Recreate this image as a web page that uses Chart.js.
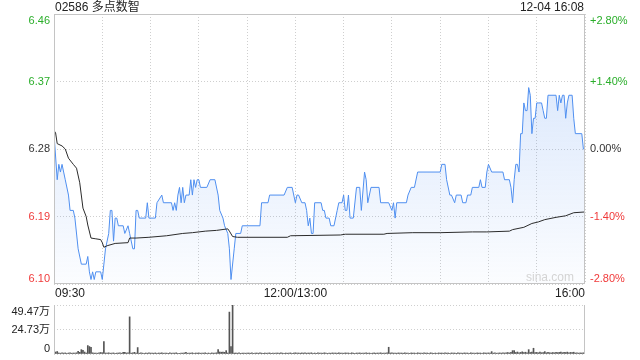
<!DOCTYPE html>
<html>
<head>
<meta charset="utf-8">
<script src="https://cdn.jsdelivr.net/npm/chart.js@4.4.0/dist/chart.umd.min.js"></script>
<style>
  html, body { margin: 0; padding: 0; background: #fff; }
  #wrap { position: relative; width: 640px; height: 360px; }
  #wrap canvas { position: absolute; left: 0; top: 0; }
</style>
</head>
<body>
<div id="wrap">
  <canvas id="priceChart" width="640" height="360"></canvas>
  <canvas id="volChart" width="640" height="360"></canvas>
</div>
<script>
// Header texts
const stockTitle = '02586 多点数智';
const stampText = '12-04 16:08';

// Previous close, axis is +/-2.80% around it
const prevClose = 6.28;
const pctTicks = [2.8, 1.4, 0, -1.4, -2.8];
const priceTickLabels = ['6.46', '6.37', '6.28', '6.19', '6.10'];
const pctTickLabels = ['+2.80%', '+1.40%', '0.00%', '-1.40%', '-2.80%'];

// Time axis: minutes since open, lunch break removed (0 = 09:30, 150 = 12:00/13:00, 330 = 16:00)
const timeTickMinutes = [0, 150, 330];
const timeTickLabels = ['09:30', '12:00/13:00', '16:00'];

// Volume axis (unit: 万 shares)
const volTicks = [49.47, 24.73, 0];
const volTickLabels = ['49.47万', '24.73万', '0'];

// Price trace: [minute, price]
const priceTrace = [
  [0, 6.30], [2, 6.24], [3, 6.26], [4, 6.25], [5, 6.26], [6, 6.25], [7, 6.24], [9, 6.22], [10, 6.20], [12, 6.20],
  [13, 6.19], [15, 6.15], [17, 6.13], [20, 6.13], [21, 6.14], [22, 6.12], [23, 6.11], [24, 6.12], [25, 6.11], [26, 6.12],
  [29, 6.12], [30, 6.11], [32, 6.15], [34, 6.17], [35, 6.20], [36, 6.20], [37, 6.16], [38, 6.19], [39, 6.19], [40, 6.18],
  [43, 6.18], [44, 6.17], [46, 6.18], [47, 6.17], [49, 6.15], [50, 6.15], [51, 6.20], [52, 6.20], [53, 6.19], [57, 6.19],
  [58, 6.21], [59, 6.19], [63, 6.19], [64, 6.21], [67, 6.22], [68, 6.21], [73, 6.21], [74, 6.20], [75, 6.21], [76, 6.20],
  [77, 6.22], [78, 6.23], [79, 6.21], [80, 6.23], [81, 6.21], [82, 6.22], [84, 6.22], [85, 6.24], [86, 6.22], [87, 6.24],
  [88, 6.23], [89, 6.24], [90, 6.24], [91, 6.23], [95, 6.23], [97, 6.24], [100, 6.24], [102, 6.22], [103, 6.20], [105, 6.19],
  [106, 6.18], [108, 6.17], [109, 6.15], [110, 6.11], [112, 6.15], [113, 6.17], [116, 6.17], [117, 6.18], [128, 6.18], [129, 6.21],
  [133, 6.21], [134, 6.22], [143, 6.22], [145, 6.23], [148, 6.23], [150, 6.21], [151, 6.22], [152, 6.22], [154, 6.21], [156, 6.21],
  [157, 6.20], [158, 6.18], [159, 6.19], [160, 6.17], [161, 6.17], [162, 6.21], [166, 6.21], [167, 6.20], [168, 6.20], [169, 6.19],
  [171, 6.19], [172, 6.18], [174, 6.18], [176, 6.20], [177, 6.21], [179, 6.21], [180, 6.22], [181, 6.20], [182, 6.20], [183, 6.22],
  [184, 6.19], [186, 6.19], [188, 6.23], [190, 6.23], [191, 6.20], [193, 6.25], [194, 6.24], [195, 6.21], [197, 6.23], [202, 6.23],
  [203, 6.21], [208, 6.21], [210, 6.20], [211, 6.21], [212, 6.19], [213, 6.21], [219, 6.21], [220, 6.22], [222, 6.23], [224, 6.23],
  [226, 6.25], [240, 6.25], [241, 6.26], [243, 6.26], [244, 6.24], [246, 6.22], [247, 6.22], [249, 6.21], [250, 6.22], [253, 6.22],
  [254, 6.21], [256, 6.21], [257, 6.22], [259, 6.22], [260, 6.23], [264, 6.23], [265, 6.24], [266, 6.23], [268, 6.23], [269, 6.25],
  [270, 6.26], [272, 6.25], [279, 6.25], [280, 6.24], [283, 6.24], [284, 6.23], [285, 6.21], [286, 6.24], [287, 6.26], [288, 6.26],
  [289, 6.25], [290, 6.30], [291, 6.30], [292, 6.34], [293, 6.33], [294, 6.33], [295, 6.36], [296, 6.35], [297, 6.30], [298, 6.32],
  [299, 6.32], [300, 6.34], [301, 6.34], [303, 6.34], [304, 6.33], [305, 6.32], [306, 6.32], [307, 6.35], [312, 6.35], [313, 6.33],
  [314, 6.35], [315, 6.34], [316, 6.35], [317, 6.35], [318, 6.32], [319, 6.34], [320, 6.35], [322, 6.35], [323, 6.32], [324, 6.30],
  [328, 6.30], [329, 6.28], [330, 6.28]
];

// Average price trace: [minute, price]
const avgTrace = [
  [0, 6.304], [1, 6.301], [2, 6.287], [5, 6.284], [7, 6.280], [9, 6.268], [12, 6.260], [14, 6.255], [16, 6.236], [18, 6.203],
  [20, 6.192], [21, 6.181], [23, 6.164], [26, 6.163], [29, 6.162], [30, 6.158], [31, 6.152], [33, 6.154], [38, 6.157], [46, 6.158],
  [47, 6.164], [51, 6.164], [59, 6.165], [70, 6.167], [80, 6.170], [86, 6.171], [94, 6.173], [101, 6.174], [108, 6.176], [109, 6.173],
  [111, 6.166], [114, 6.165], [145, 6.165], [147, 6.167], [178, 6.168], [181, 6.169], [205, 6.169], [207, 6.170], [223, 6.171], [240, 6.171],
  [260, 6.172], [269, 6.172], [283, 6.173], [285, 6.175], [292, 6.178], [297, 6.183], [301, 6.185], [305, 6.188], [312, 6.191], [318, 6.193],
  [323, 6.197], [330, 6.198]
];

// Volume per minute (万), index = minute since open
const volumes = [
  3.0, 2.0, 2.5, 1.0, 0.8, 1.2, 0.9, 1.1, 0.7, 1.0, 1.3, 0.8, 1.0, 0.9, 1.2, 2.7, 1.7, 4.4, 3.8, 2.0, 1.0, 8.5, 7.5, 6.8, 1.2, 0.9, 1.0, 0.8, 1.1, 1.5,
  1.3, 12.6, 1.0, 0.9, 1.2, 0.8, 1.0, 1.1, 0.7, 0.9, 1.0, 1.2, 0.8, 1.7, 1.7, 1.0, 1.2, 37.5, 0.9, 1.1, 1.7, 1.0, 6.5, 0.8, 1.2, 0.9, 0.7, 1.0, 0.8, 1.1,
  0.9, 1.0, 0.8, 1.1, 0.7, 1.0, 0.9, 1.2, 0.8, 1.0, 0.9, 0.7, 1.1, 0.8, 1.0, 0.9, 1.2, 0.8, 0.7, 1.0, 0.9, 1.1, 1.7, 0.8, 1.0, 0.9, 1.2, 0.8, 1.0, 0.9,
  1.1, 0.8, 1.0, 0.9, 1.2, 0.7, 1.0, 0.8, 1.1, 0.9, 1.0, 1.2, 4.4, 2.0, 1.8, 2.0, 1.7, 3.4, 1.0, 42.3, 7.5, 49.47, 0.9, 1.0, 0.8, 1.1, 0.7, 0.9, 1.0, 0.8,
  0.9, 1.0, 0.8, 1.1, 0.7, 0.9, 1.0, 0.8, 1.2, 0.9, 0.7, 1.0, 0.8, 0.9, 1.1, 0.7, 1.0, 0.8, 0.9, 1.0, 0.8, 1.2, 0.9, 0.7, 1.0, 0.8, 0.9, 1.1, 0.8, 1.0,
  1.2, 0.9, 1.0, 0.8, 1.1, 0.9, 1.3, 0.8, 1.0, 0.9, 1.2, 0.8, 1.0, 0.7, 1.1, 0.9, 1.0, 0.8, 1.2, 0.9, 0.7, 1.0, 0.8, 1.1, 0.9, 1.0, 0.8, 1.2, 0.9, 1.0,
  0.8, 1.1, 0.9, 1.0, 0.7, 1.2, 0.9, 0.8, 1.0, 0.9, 1.1, 0.8, 1.0, 0.9, 1.2, 0.8, 1.0, 0.7, 0.9, 1.1, 0.8, 1.0, 0.9, 1.2, 0.8, 1.0, 0.9, 1.1, 6.8, 1.0,
  1.2, 0.9, 1.0, 0.8, 1.1, 0.9, 1.0, 0.8, 1.2, 0.9, 1.0, 0.7, 1.1, 0.9, 1.0, 0.8, 1.2, 0.9, 1.0, 0.8, 1.1, 0.9, 1.0, 0.8, 1.2, 0.9, 0.7, 1.0, 0.8, 1.1,
  0.9, 1.0, 0.8, 1.2, 0.9, 1.0, 0.8, 1.1, 0.9, 1.0, 0.7, 1.2, 0.9, 1.0, 0.8, 1.1, 0.9, 1.0, 0.8, 1.2, 0.9, 1.0, 0.8, 1.1, 0.9, 1.0, 0.8, 1.2, 1.0, 0.9,
  1.1, 1.0, 2.4, 0.9, 1.2, 0.8, 1.0, 1.1, 0.9, 1.3, 1.0, 1.2, 1.5, 1.1, 1.8, 3.4, 3.4, 1.5, 2.0, 1.2, 1.6, 2.2, 1.4, 1.8, 1.3, 4.4, 1.5, 2.0, 5.8, 1.4,
  1.6, 1.2, 1.9, 1.3, 1.5, 2.4, 1.2, 1.6, 1.3, 1.1, 1.5, 1.2, 1.8, 1.4, 1.6, 2.0, 1.3, 1.7, 1.5, 1.9, 1.2, 1.6, 1.4, 1.8, 1.0, 1.2, 0.9, 1.1, 1.0, 1.2,
  1.5
];

const FONT_FAMILY = '"Liberation Sans", Arial, "Noto Sans CJK SC", sans-serif';
const UP_COLOR = '#2aae2a';
const DOWN_COLOR = '#f03a3a';
const FLAT_COLOR = '#333333';
const GRID_COLOR = '#cfcfcf';
const FRAME_COLOR = '#c4c4c4';

function labelColor(pct) {
    if (pct > 0) return UP_COLOR;
    if (pct < 0) return DOWN_COLOR;
    return FLAT_COLOR;
}

// Draw the frame, axis labels and header texts of the price panel
const priceDecor = {
    id: 'priceDecor',
    afterDraw(chart) {
        const ctx = chart.ctx;
        const area = chart.chartArea;
        const yScale = chart.scales.y;
        const xScale = chart.scales.x;
        ctx.save();

        // solid frame
        ctx.strokeStyle = FRAME_COLOR;
        ctx.lineWidth = 1;
        ctx.strokeRect(area.left + 0.5, area.top + 0.5, area.right - area.left - 1, area.bottom - area.top - 1);

        // header
        ctx.font = '12px ' + FONT_FAMILY;
        ctx.fillStyle = '#222';
        ctx.textBaseline = 'middle';
        ctx.textAlign = 'left';
        ctx.fillText(stockTitle, area.left + 1, 8);
        ctx.textAlign = 'right';
        ctx.fillText(stampText, area.right - 1, 8);

        // left and right axis labels
        ctx.font = '11px ' + FONT_FAMILY;
        pctTicks.forEach((pct, i) => {
            const y = yScale.getPixelForValue(prevClose * (1 + pct / 100));
            let baseline = 'middle';
            if (i === 0) baseline = 'top';
            if (i === pctTicks.length - 1) baseline = 'bottom';
            ctx.textBaseline = baseline;
            ctx.fillStyle = labelColor(pct);
            ctx.textAlign = 'right';
            ctx.fillText(priceTickLabels[i], area.left - 4, y + (baseline === 'top' ? 1 : 0));
            ctx.textAlign = 'left';
            ctx.fillText(pctTickLabels[i], area.right + 5, y + (baseline === 'top' ? 1 : 0));
        });

        // time labels under the panel
        ctx.font = '12px ' + FONT_FAMILY;
        ctx.fillStyle = '#222';
        ctx.textBaseline = 'middle';
        timeTickMinutes.forEach((m, i) => {
            const x = xScale.getPixelForValue(m);
            if (i === 0) ctx.textAlign = 'left';
            else if (i === timeTickMinutes.length - 1) ctx.textAlign = 'right';
            else ctx.textAlign = 'center';
            ctx.fillText(timeTickLabels[i], x + (i === 0 ? 1 : 0), area.bottom + 10);
        });

        // watermark
        ctx.font = '12px ' + FONT_FAMILY;
        ctx.fillStyle = '#d4d4d4';
        ctx.textAlign = 'right';
        ctx.textBaseline = 'middle';
        ctx.fillText('sina.com', area.right - 11, area.bottom - 6);

        ctx.restore();
    }
};

// Frame and axis labels of the volume panel
const volDecor = {
    id: 'volDecor',
    afterDraw(chart) {
        const ctx = chart.ctx;
        const area = chart.chartArea;
        const yScale = chart.scales.y;
        ctx.save();
        ctx.strokeStyle = FRAME_COLOR;
        ctx.lineWidth = 1;
        ctx.beginPath();
        ctx.moveTo(area.left + 0.5, area.top);
        ctx.lineTo(area.left + 0.5, area.bottom);
        ctx.moveTo(area.right - 0.5, area.top);
        ctx.lineTo(area.right - 0.5, area.bottom);
        ctx.stroke();

        ctx.font = '11px ' + FONT_FAMILY;
        ctx.fillStyle = '#222';
        ctx.textAlign = 'right';
        volTicks.forEach((v, i) => {
            const y = yScale.getPixelForValue(v);
            let baseline = 'middle';
            if (i === 0) baseline = 'top';
            if (i === volTicks.length - 1) baseline = 'bottom';
            ctx.textBaseline = baseline;
            ctx.fillText(volTickLabels[i], area.left - 4, y + (baseline === 'top' ? 1 : 0));
        });
        ctx.restore();
    }
};

function priceFill(context) {
    const area = context.chart.chartArea;
    if (!area) return 'rgba(70,135,240,0.1)';
    const g = context.chart.ctx.createLinearGradient(0, area.top, 0, area.bottom);
    g.addColorStop(0, 'rgba(70,135,240,0.24)');
    g.addColorStop(1, 'rgba(70,135,240,0.02)');
    return g;
}

const dottedGrid = {
    color: GRID_COLOR,
    lineWidth: 1,
    drawTicks: false
};

document.addEventListener('DOMContentLoaded', function() {
    const priceCtx = document.getElementById('priceChart');
    new Chart(priceCtx, {
        type: 'line',
        data: {
            datasets: [
                {
                    label: 'avg',
                    data: avgTrace.map(p => ({ x: p[0], y: p[1] })),
                    borderColor: '#2b2b2b',
                    borderWidth: 1,
                    pointRadius: 0,
                    fill: false,
                    tension: 0
                },
                {
                    label: 'price',
                    data: priceTrace.map(p => ({ x: p[0], y: p[1] })),
                    borderColor: '#4f8ff0',
                    borderWidth: 1,
                    pointRadius: 0,
                    fill: 'start',
                    backgroundColor: priceFill,
                    tension: 0
                }
            ]
        },
        options: {
            responsive: false,
            animation: false,
            devicePixelRatio: 1,
            layout: { padding: { left: 54, right: 55, top: 14, bottom: 76 } },
            plugins: { legend: { display: false }, tooltip: { enabled: false } },
            scales: {
                x: {
                    type: 'linear',
                    min: 0,
                    max: 330,
                    ticks: { display: false, stepSize: 30 },
                    grid: dottedGrid,
                    border: { display: false, dash: [1, 2] }
                },
                y: {
                    min: prevClose * (1 - 0.028),
                    max: prevClose * (1 + 0.028),
                    ticks: { display: false },
                    afterBuildTicks: function(scale) {
                        scale.ticks = pctTicks.map(p => ({ value: prevClose * (1 + p / 100) }));
                    },
                    grid: dottedGrid,
                    border: { display: false, dash: [1, 2] }
                }
            }
        },
        plugins: [priceDecor]
    });

    const volCtx = document.getElementById('volChart');
    new Chart(volCtx, {
        type: 'bar',
        data: {
            datasets: [{
                label: 'volume',
                data: volumes.map((v, i) => ({ x: i, y: v })),
                backgroundColor: '#555555',
                barThickness: 1
            }]
        },
        options: {
            responsive: false,
            animation: false,
            devicePixelRatio: 1,
            layout: { padding: { left: 54, right: 55, top: 305, bottom: 6 } },
            plugins: { legend: { display: false }, tooltip: { enabled: false } },
            scales: {
                x: {
                    type: 'linear',
                    min: 0,
                    max: 330,
                    offset: false,
                    ticks: { display: false },
                    grid: { display: false, drawTicks: false },
                    border: { display: false }
                },
                y: {
                    min: 0,
                    max: volTicks[0],
                    ticks: { display: false },
                    afterBuildTicks: function(scale) {
                        scale.ticks = volTicks.map(v => ({ value: v }));
                    },
                    grid: dottedGrid,
                    border: { display: false, dash: [1, 2] }
                }
            }
        },
        plugins: [volDecor]
    });
});
</script>
</body>
</html>
